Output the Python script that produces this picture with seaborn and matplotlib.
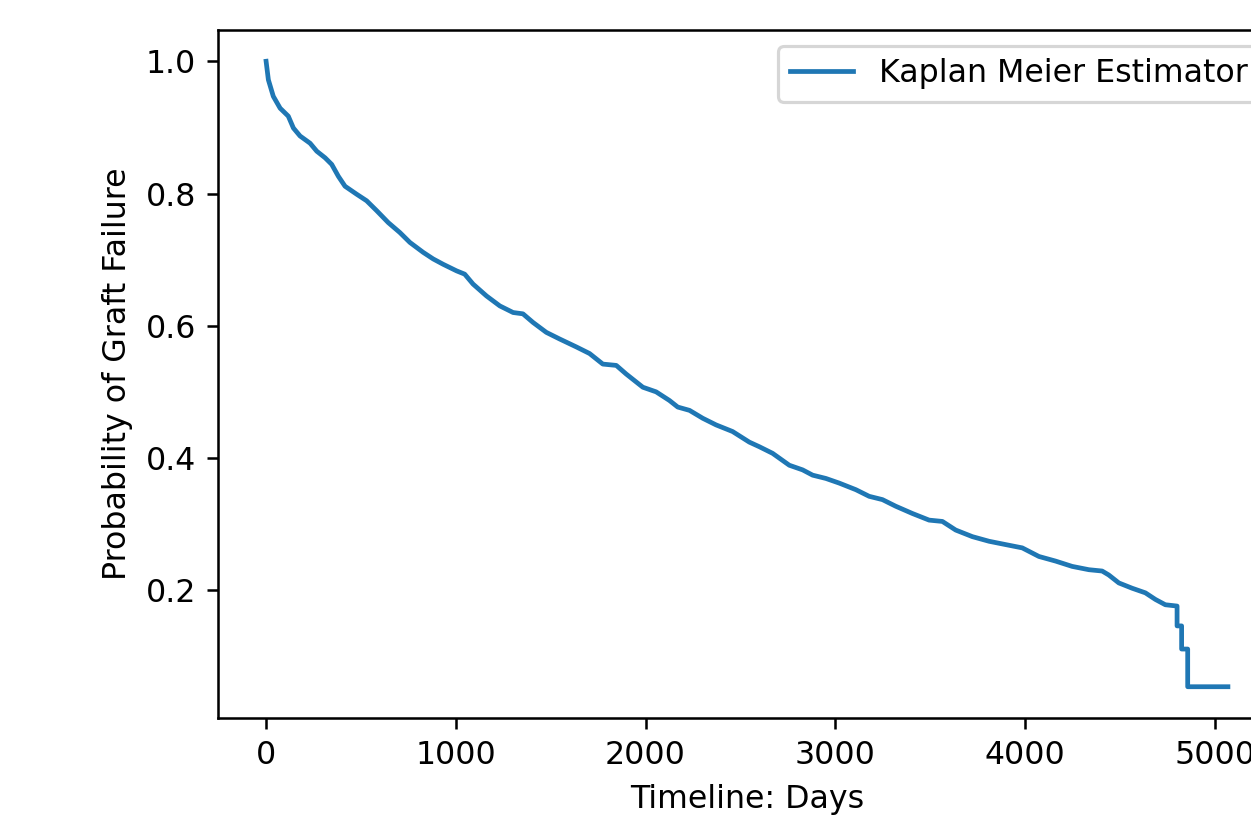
import matplotlib
matplotlib.use("Agg")
import matplotlib.pyplot as plt
import seaborn as sns
import pandas as pd
import numpy as np

# %%
# Kaplan Meier survival curve
# (the last rows are the corners of the big drops near the end)
days = [0, 12, 38, 74, 117, 144, 179, 232, 267, 311, 346, 381, 416, 477, 530,
        583, 644, 705, 758, 828, 881, 933, 1004, 1047, 1091, 1162, 1232, 1302,
        1354, 1407, 1477, 1547, 1635, 1705, 1775, 1846, 1898, 1986, 2056, 2126,
        2170, 2232, 2302, 2372, 2459, 2547, 2600, 2670, 2758, 2828, 2881, 2951,
        3021, 3109, 3179, 3249, 3319, 3407, 3495, 3565, 3635, 3723, 3811, 3898,
        3986, 4074, 4162, 4249, 4337, 4407, 4442, 4495, 4565, 4635, 4688, 4740,
        4802, 4802, 4826, 4826, 4858, 4858, 5070]
survival = [1.0, 0.972, 0.947, 0.929, 0.917, 0.899, 0.887, 0.876, 0.864, 0.854,
            0.844, 0.826, 0.811, 0.799, 0.789, 0.774, 0.756, 0.741, 0.726, 0.711,
            0.701, 0.693, 0.683, 0.678, 0.663, 0.645, 0.630, 0.620, 0.618, 0.605,
            0.590, 0.580, 0.568, 0.558, 0.542, 0.540, 0.527, 0.507, 0.500, 0.487,
            0.477, 0.472, 0.460, 0.450, 0.440, 0.424, 0.417, 0.407, 0.389, 0.382,
            0.374, 0.369, 0.362, 0.352, 0.342, 0.337, 0.327, 0.316, 0.306, 0.304,
            0.291, 0.281, 0.274, 0.269, 0.264, 0.251, 0.244, 0.236, 0.231, 0.229,
            0.223, 0.211, 0.203, 0.196, 0.186, 0.178,
            0.176, 0.146, 0.146, 0.111, 0.111, 0.054, 0.054]

df = pd.DataFrame({"Timeline": days, "Survival": survival})

# %%
#------------------------
# scale matplotlib defaults up (picture is an enlarged notebook figure)
#------------------------
S = 2.275
plt.rcParams.update({
    "font.size": 10 * S,
    "lines.linewidth": 1.5 * S,
    "axes.linewidth": 0.8 * S,
    "patch.linewidth": 1.0 * S,
    "axes.labelpad": 4 * S,
    "xtick.major.size": 3.5 * S,
    "ytick.major.size": 3.5 * S,
    "xtick.major.width": 0.8 * S,
    "ytick.major.width": 0.8 * S,
    "xtick.major.pad": 3.5 * S,
    "ytick.major.pad": 3.5 * S,
})

fig = plt.figure(figsize=(12.51, 8.15), dpi=100)
ax = fig.add_axes([218 / 1251, 97 / 815, 1058 / 1251, 688 / 815])

sns.lineplot(x="Timeline", y="Survival", data=df, estimator=None, sort=False,
             color="#1f77b4", label="Kaplan Meier Estimator", ax=ax)
ax.set_xlabel("Timeline: Days")
ax.set_ylabel("Probability of Graft Failure")
ax.set_yticks([0.2, 0.4, 0.6, 0.8, 1.0])
ax.legend(loc="upper right")

fig.savefig("out.png", dpi=100)
